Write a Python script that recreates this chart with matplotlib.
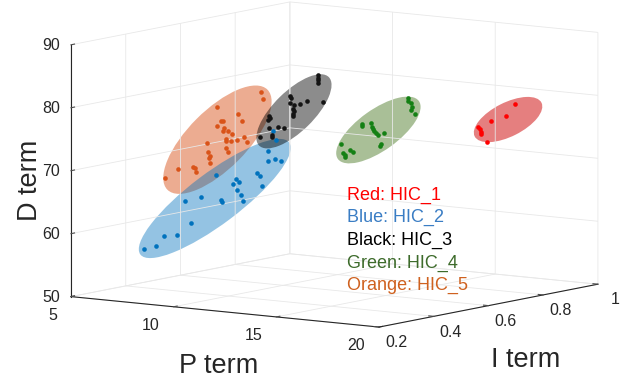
import numpy as np
import matplotlib
matplotlib.use("Agg")
import matplotlib.pyplot as plt
from matplotlib.patches import Ellipse
from matplotlib.transforms import IdentityTransform
from mpl_toolkits.mplot3d import proj3d

plt.rcParams['font.family'] = ['Liberation Sans', 'DejaVu Sans']
plt.rcParams['grid.color'] = '#e8e8e8'
plt.rcParams['grid.linewidth'] = 0.6

# ─── Data (P, I, D gains per cluster) ───────────────────────────────────────

p_red = [18.7, 18.75, 18.85, 18.95, 19.0, 19.1, 19.05, 17.97, 17.5, 16.8,
         16.15, 16.25, 16.3, 16.3, 16.6]
i_red = [0.85, 0.85, 0.85, 0.85, 0.85, 0.85, 0.85, 0.85, 0.85, 0.85,
         0.85, 0.85, 0.85, 0.85, 0.85]
d_red = [80.4, 80.1, 79.8, 79.2, 78.9, 78.5, 78.3, 79.2, 77.2, 76.2,
         75.0, 74.7, 74.3, 73.9, 72.8]

p_blue = [7.9, 8.45, 8.85, 9.5, 10.2, 9.9, 10.65, 11.4, 11.65, 11.7,
          12.2, 12.35, 12.5, 12.4, 12.6, 12.7, 13.4, 13.55, 13.65, 13.95,
          13.95, 14.25, 14.55, 14.15, 14.3]
i_blue = [0.25, 0.25, 0.25, 0.25, 0.25, 0.25, 0.25, 0.25, 0.25, 0.25,
          0.25, 0.25, 0.25, 0.25, 0.25, 0.25, 0.25, 0.25, 0.25, 0.25,
          0.25, 0.25, 0.25, 0.25, 0.25]
d_blue = [58.1, 58.8, 60.5, 60.8, 63.0, 66.4, 67.2, 71.0, 67.1, 66.8,
          69.8, 70.6, 70.2, 68.9, 68.2, 67.2, 71.9, 71.5, 69.9, 75.6,
          74.0, 74.4, 74.2, 78.8, 77.4]

p_black = [14.35, 14.35, 14.35, 14.35, 13.0, 13.05, 13.0, 13.2, 13.5, 13.85,
           14.6, 13.15, 13.2, 13.15, 13.15, 12.0, 12.05, 11.95, 12.0, 12.4,
           12.7, 12.1, 12.1, 11.55]
i_black = [0.4, 0.4, 0.4, 0.4, 0.4, 0.4, 0.4, 0.4, 0.4, 0.4,
           0.4, 0.4, 0.4, 0.4, 0.4, 0.4, 0.4, 0.4, 0.4, 0.4,
           0.4, 0.4, 0.4, 0.4]
d_black = [86.5, 86.1, 85.7, 85.2, 82.7, 82.4, 81.7, 81.3, 81.6, 82.2,
           82.3, 80.8, 80.4, 79.9, 79.6, 79.2, 78.9, 78.6, 77.3, 77.7,
           77.5, 76.2, 75.9, 75.7]

p_green = [16.1, 16.1, 16.25, 16.3, 16.25, 16.4, 13.85, 13.85, 14.3, 14.35,
           14.4, 14.45, 14.5, 14.6, 14.9, 14.75, 14.7, 12.8, 13.25, 13.4,
           12.9, 13.0, 13.0]
i_green = [0.6, 0.6, 0.6, 0.6, 0.6, 0.6, 0.6, 0.6, 0.6, 0.6,
           0.6, 0.6, 0.6, 0.6, 0.6, 0.6, 0.6, 0.6, 0.6, 0.6,
           0.6, 0.6, 0.6]
d_green = [81.8, 81.3, 81.0, 80.3, 79.9, 79.2, 76.8, 76.5, 77.2, 76.6,
           76.3, 75.9, 75.6, 75.3, 75.7, 74.0, 73.6, 73.3, 72.5, 72.2,
           71.9, 71.6, 71.3]

p_orange = [8.25, 8.9, 9.6, 9.7, 9.75, 10.3, 10.35, 10.45, 10.4, 10.45,
            10.8, 10.8, 10.95, 11.05, 11.1, 11.05, 11.2, 11.2, 11.2, 11.3,
            11.3, 11.45, 11.5, 11.75, 11.8, 12.0, 12.1, 12.25, 12.9, 13.0]
i_orange = [0.3, 0.3, 0.3, 0.3, 0.3, 0.3, 0.3, 0.3, 0.3, 0.3,
            0.3, 0.3, 0.3, 0.3, 0.3, 0.3, 0.3, 0.3, 0.3, 0.3,
            0.3, 0.3, 0.3, 0.3, 0.3, 0.3, 0.3, 0.3, 0.3, 0.3]
d_orange = [69.0, 70.7, 71.2, 71.1, 70.5, 75.3, 73.8, 73.2, 72.9, 72.1,
            81.1, 78.1, 79.0, 79.0, 77.9, 77.4, 76.2, 75.9, 74.7, 74.1,
            77.5, 75.9, 77.1, 76.2, 80.3, 79.3, 76.8, 76.0, 84.2, 83.1]

legend_labels = ["Red: HIC_1", "Blue: HIC_2", "Black: HIC_3",
                 "Green: HIC_4", "Orange: HIC_5"]

p_ticks = [5, 10, 15, 20]
i_ticks = [0.2, 0.4, 0.6, 0.8, 1]
i_tick_labels = ["0.2", "0.4", "0.6", "0.8", "1"]
d_ticks = [50, 60, 70, 80, 90]

# ─── Styles ─────────────────────────────────────────────────────────────────

# drawing order of the ellipses: orange under black
clusters = [
    # (P, I, D, point colour, fill colour, fill alpha)
    (p_orange, i_orange, d_orange, (0.85, 0.325, 0.098), (0.85, 0.325, 0.098), 0.48),
    (p_blue, i_blue, d_blue, (0.0, 0.447, 0.741), (0.0, 0.447, 0.741), 0.42),
    (p_black, i_black, d_black, (0.08, 0.08, 0.08), (0.0, 0.0, 0.0), 0.45),
    (p_green, i_green, d_green, (0.08, 0.5, 0.08), (0.25, 0.45, 0.1), 0.45),
    (p_red, i_red, d_red, (1.0, 0.0, 0.0), (0.8, 0.0, 0.0), 0.5),
]
legend_colors = ["#ff0000", "#3a7dc4", "#000000", "#3d6b2b", "#cf611f"]

ell_pad = 6.5   # pixels added around the point spread

# ─── Figure ─────────────────────────────────────────────────────────────────

fig = plt.figure(figsize=(6.26, 3.83), dpi=100)
ax = fig.add_axes([0.026, 0.057, 1, 1], projection='3d', computed_zorder=False)
ax.set_facecolor('none')
ax.set_proj_type('ortho')
ax.view_init(elev=8, azim=-54.6)
ax.set_box_aspect((1, 1, 0.673), zoom=1.5)

ax.set_xlim(5, 20)
ax.set_ylim(0.2, 1)
ax.set_zlim(50, 90)
ax.set_xticks(p_ticks)
ax.set_yticks(i_ticks)
ax.set_yticklabels(i_tick_labels)
ax.set_zticks(d_ticks)
ax.zaxis.set_ticks_position('lower')
ax.zaxis.set_label_position('lower')

for axis in (ax.xaxis, ax.yaxis, ax.zaxis):
    axis.set_pane_color((1, 1, 1, 0))
    axis.pane.set_edgecolor('#e8e8e8')
    axis.line.set_color('0.15')
    axis.line.set_linewidth(0.8)
    axis._axinfo['tick']['inward_factor'] = 0.0
    axis._axinfo['tick']['outward_factor'] = 0.2
    axis._axinfo['grid']['color'] = '#e8e8e8'
    axis._axinfo['grid']['linewidth'] = 0.6

ax.tick_params(labelsize=11.5, labelcolor='0.15', color='0.3', width=0.6)
ax.xaxis.set_tick_params(pad=1)
ax.yaxis.set_tick_params(pad=0)
ax.zaxis.set_tick_params(pad=-2.5)

for p, i, d, pc, fc, fa in clusters:
    ax.scatter(p, i, d, s=11, color=pc, depthshade=False, linewidths=0, zorder=3)

fig.canvas.draw()

# tick label anchoring closer to MATLAB's placement
for axis, ha in ((ax.xaxis, 'right'), (ax.yaxis, 'center'), (ax.zaxis, 'center')):
    for lbl in axis.get_ticklabels():
        lbl.set_va('center')
        lbl.set_ha(ha)

# ellipses: principal axes of the projected points, sized to their spread
for n, (p, i, d, pc, fc, fa) in enumerate(clusters):
    xs, ys, _ = proj3d.proj_transform(np.array(p), np.array(i), np.array(d), ax.get_proj())
    pts = ax.transData.transform(np.column_stack([xs, ys]))
    mu = pts.mean(axis=0)
    vals, vecs = np.linalg.eigh(np.cov(pts.T))
    major, minor = vecs[:, 1], vecs[:, 0]
    u = (pts - mu) @ major
    v = (pts - mu) @ minor
    cen = mu + major * (u.max() + u.min()) / 2 + minor * (v.max() + v.min()) / 2
    ang = np.degrees(np.arctan2(major[1], major[0]))
    w = (u.max() - u.min()) + 2 * ell_pad
    h = (v.max() - v.min()) + 2 * ell_pad
    e = Ellipse(cen, w, h, angle=ang, transform=IdentityTransform(),
                facecolor=fc, alpha=fa, edgecolor='none', zorder=-10 + n)
    fig.add_artist(e)

# axis titles, kept upright as in the original
fig.text(219 / 626, 1 - 366 / 383, "P term", fontsize=19.5, color='0.15',
         ha='center', va='center')
fig.text(526 / 626, 1 - 360 / 383, "I term", fontsize=19.5, color='0.15',
         ha='center', va='center')
fig.text(30 / 626, 1 - 180 / 383, "D term", fontsize=19.5, color='0.15',
         ha='center', va='center', rotation=90)

for n, (txt, col) in enumerate(zip(legend_labels, legend_colors)):
    fig.text(347 / 626, 1 - (195 + 22.7 * n) / 383, txt, color=col,
             fontsize=13, va='center', ha='left')

fig.savefig("out.png", dpi=100)
